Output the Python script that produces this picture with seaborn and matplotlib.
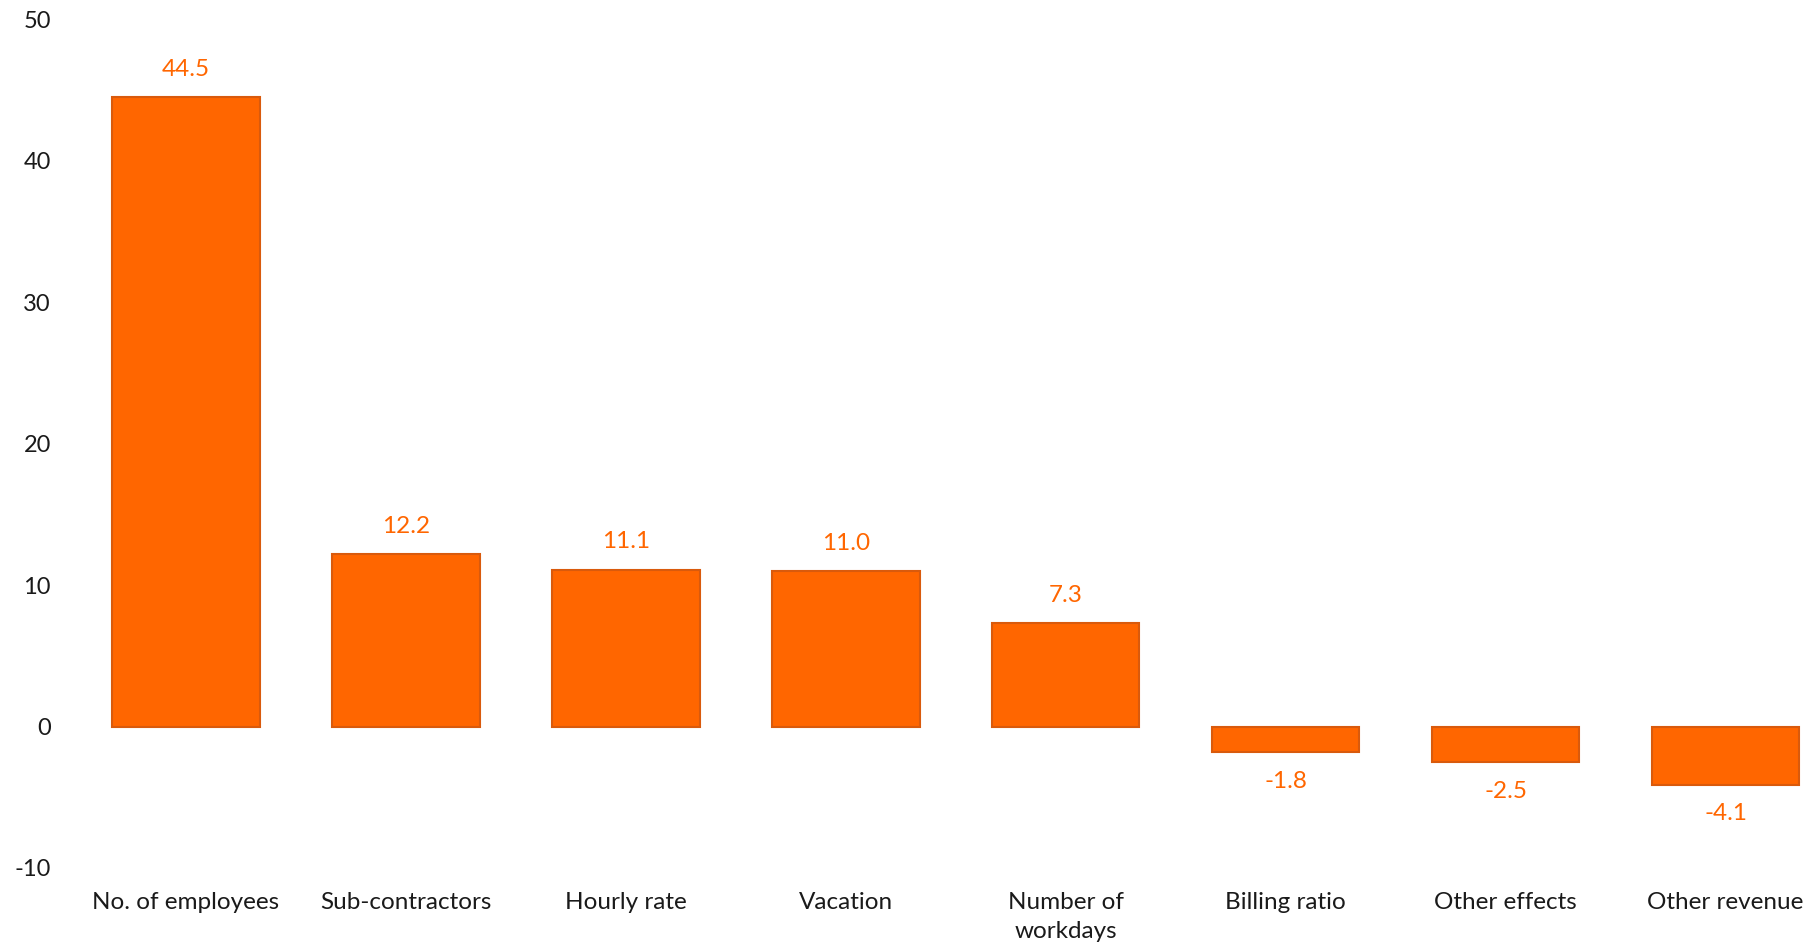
import matplotlib
matplotlib.use("Agg")
import matplotlib.pyplot as plt
import seaborn as sns
import pandas as pd

categories = ["No. of employees", "Sub-contractors", "Hourly rate", "Vacation",
              "Number of\nworkdays", "Billing ratio", "Other effects", "Other revenue"]
values = [44.5, 12.2, 11.1, 11.0, 7.3, -1.8, -2.5, -4.1]
value_labels = ["44.5", "12.2", "11.1", "11.0", "7.3", "-1.8", "-2.5", "-4.1"]
y_ticks = [-10, 0, 10, 20, 30, 40, 50]

sns.set_theme(style="white")
plt.rcParams["font.family"] = ["Lato", "DejaVu Sans"]

df = pd.DataFrame({"category": categories, "value": values})

fig = plt.figure(figsize=(18.13, 9.49), dpi=100)
ax = fig.add_axes([0.0419, 0.0854, 0.9581, 0.8941])

bar_color = "#FF6600"
sns.barplot(data=df, x="category", y="value", color=bar_color, saturation=1,
            width=0.67, edgecolor="#D95A0C", linewidth=1.5, ax=ax)

for i, (v, lab) in enumerate(zip(values, value_labels)):
    off = 20 if v >= 0 else -21
    ax.annotate(lab, (i, v), xytext=(0, off), textcoords="offset points",
                ha="center", va="center", fontsize=17.5, color="#FF6600")

ax.set_ylim(-10, 50)
ax.set_xlim(-0.5, 7.397)
ax.set_yticks(y_ticks)
ax.set_yticklabels([str(t) for t in y_ticks])
ax.set_xlabel("")
ax.set_ylabel("")
ax.tick_params(axis="y", length=0, pad=18, labelsize=17, labelcolor="#1a1a1a")
ax.tick_params(axis="x", length=0, pad=17.5, labelsize=17.5, labelcolor="#1a1a1a")
for lbl in ax.get_xticklabels():
    lbl.set_linespacing(1.45)
for s in ax.spines.values():
    s.set_visible(False)
ax.grid(False)

fig.savefig("out.png", dpi=100, facecolor="white")
